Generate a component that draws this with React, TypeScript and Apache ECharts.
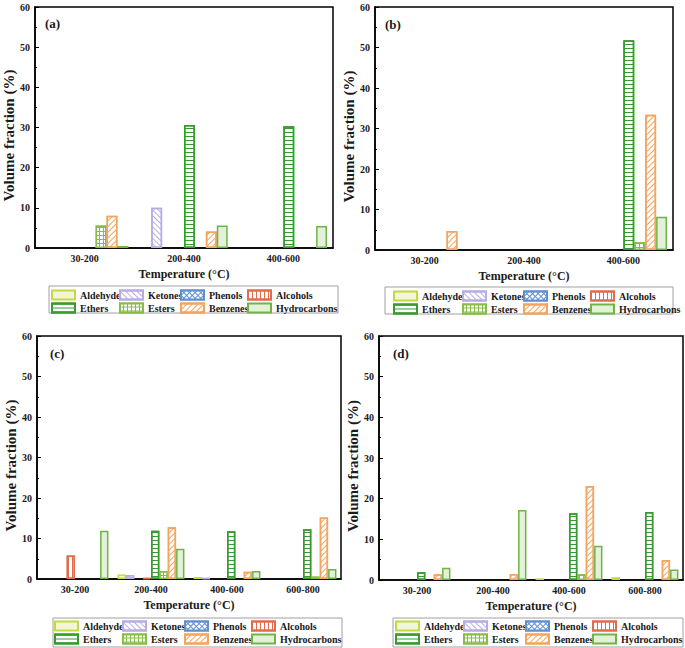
import React, { useEffect, useRef } from "react";
import * as echarts from "echarts";

// ---------- data ----------
const compounds = ["Aldehyde", "Ketones", "Phenols", "Alcohols", "Ethers", "Esters", "Benzenes", "Hydrocarbons"];
const categoriesAB = ["30-200", "200-400", "400-600"];
const categoriesCD = ["30-200", "200-400", "400-600", "600-800"];
const yMin = 0;
const yMax = 60;
const yInterval = 10;

// values in compound order: Aldehyde, Ketones, Phenols, Alcohols, Ethers, Esters, Benzenes, Hydrocarbons
const a30_200 = [0, 0, 0, 0, 0, 5.6, 8.0, 0.5];
const a200_400 = [0, 10.0, 0, 0, 30.6, 0, 4.1, 5.6];
const a400_600 = [0, 0, 0, 0, 30.3, 0, 0, 5.5];

const b30_200 = [0, 0, 0, 0, 0, 0, 4.7, 0];
const b200_400 = [0, 0, 0, 0, 0, 0, 0, 0];
const b400_600 = [0, 0, 0, 0, 51.8, 1.9, 33.4, 8.2];

const c30_200 = [0, 0, 0, 5.8, 0, 0, 0, 11.9];
const c200_400 = [1.1, 1.0, 0, 0.3, 11.9, 1.9, 12.8, 7.5];
const c400_600 = [0.5, 0.2, 0, 0, 11.8, 0, 1.8, 2.0];
const c600_800 = [0, 0, 0, 0, 12.3, 0.6, 15.2, 2.5];

const d30_200 = [0, 0, 0, 0, 1.9, 0, 1.4, 3.0];
const d200_400 = [0, 0, 0, 0, 0, 0, 1.5, 17.2];
const d400_600 = [0.4, 0, 0, 0, 16.4, 1.4, 23.1, 8.4];
const d600_800 = [0.7, 0, 0, 0, 16.7, 0, 4.9, 2.6];

const panelLabels = ["(a)", "(b)", "(c)", "(d)"];
const legendColumns = [
  ["Aldehyde", "Ethers"],
  ["Ketones", "Esters"],
  ["Phenols", "Benzenes"],
  ["Alcohols", "Hydrocarbons"],
];

// ---------- layout / style ----------
const FONT = "'Liberation Serif', 'Times New Roman', serif";
const TXT = "#1a1a1a";

const grids = [
  { left: 35, top: 7, width: 298, height: 241 },
  { left: 375, top: 7, width: 298, height: 243 },
  { left: 37, top: 336, width: 304, height: 243 },
  { left: 379, top: 336, width: 304, height: 244 },
];
const legendIconLefts = [
  [51, 119, 180, 247],
  [393, 462, 523, 590],
  [54, 122, 184, 251],
  [395, 463, 525, 592],
];
const legendRowTop = [289, 290, 620, 620];
const legendBoxes = [
  { x: 49, y: 286, w: 289, h: 27 },
  { x: 385, y: 287, w: 288, h: 27 },
  { x: 53, y: 618, w: 289, h: 29 },
  { x: 393, y: 618, w: 290, h: 29 },
];
const labelPos = [
  { x: 45, y: 23 },
  { x: 385, y: 24 },
  { x: 50, y: 353 },
  { x: 393, y: 353 },
];

const lineDecal = (color: string, rotation: number) => ({
  symbol: "rect",
  symbolSize: 1,
  color,
  dashArrayX: [1, 0],
  dashArrayY: [1, 3],
  rotation,
});

const seriesStyles: any[] = [
  { color: "#f1f6d6", borderColor: "#c3d93c", borderWidth: 1.5 },
  { color: "#ffffff", borderColor: "#b7ace4", borderWidth: 1.5, decal: lineDecal("#b7ace4", Math.PI / 4) },
  {
    color: "#5f8fcf",
    borderColor: "#5f8fcf",
    borderWidth: 1.5,
    decal: { symbol: "rect", symbolSize: 1, color: "#ffffff", dashArrayX: [3, 1], dashArrayY: [3, 1], rotation: Math.PI / 4 },
  },
  {
    color: "#ffffff",
    borderColor: "#df6c4b",
    borderWidth: 1.5,
    decal: { symbol: "rect", symbolSize: 1, color: "#df6c4b", dashArrayX: [1, 3], dashArrayY: [1, 0], rotation: 0 },
  },
  { color: "#ffffff", borderColor: "#389a30", borderWidth: 1.5, decal: lineDecal("#389a30", 0) },
  {
    color: "#86bd45",
    borderColor: "#86bd45",
    borderWidth: 1.5,
    decal: { symbol: "rect", symbolSize: 1, color: "#ffffff", dashArrayX: [3, 1], dashArrayY: [3, 1], rotation: 0 },
  },
  { color: "#ffffff", borderColor: "#f4a45c", borderWidth: 1.5, decal: lineDecal("#f4a45c", -Math.PI / 4) },
  { color: "#e4f1da", borderColor: "#71b446", borderWidth: 1.5 },
];

const panels = [
  { cats: categoriesAB, rows: [a30_200, a200_400, a400_600] },
  { cats: categoriesAB, rows: [b30_200, b200_400, b400_600] },
  { cats: categoriesCD, rows: [c30_200, c200_400, c400_600, c600_800] },
  { cats: categoriesCD, rows: [d30_200, d200_400, d400_600, d600_800] },
];

function buildOption() {
  const xAxis: any[] = [];
  const yAxis: any[] = [];
  const series: any[] = [];
  const legend: any[] = [];
  const graphic: any[] = [];

  panels.forEach((p, i) => {
    xAxis.push({
      type: "category",
      gridIndex: i,
      data: p.cats,
      boundaryGap: true,
      axisLine: { show: true, lineStyle: { color: "#000", width: 1.5 } },
      axisTick: { show: false },
      axisLabel: { margin: 5, fontFamily: FONT, fontWeight: "bold", fontSize: 10, color: TXT },
      splitLine: { show: false },
      name: "Temperature (°C)",
      nameLocation: "middle",
      nameGap: 20,
      nameTextStyle: { fontFamily: FONT, fontWeight: "bold", fontSize: 12, color: TXT },
    });
    yAxis.push({
      type: "value",
      gridIndex: i,
      min: yMin,
      max: yMax,
      interval: yInterval,
      axisLine: { show: true, lineStyle: { color: "#000", width: 1.5 } },
      axisTick: { show: true, inside: true, length: 4, lineStyle: { color: "#000", width: 1 } },
      minorTick: { show: true, splitNumber: 2, length: 2, lineStyle: { color: "#000", width: 1 } },
      axisLabel: { margin: 5, fontFamily: FONT, fontWeight: "bold", fontSize: 10, color: TXT },
      splitLine: { show: false },
      name: "Volume fraction (%)",
      nameLocation: "middle",
      nameGap: 18,
      nameTextStyle: { fontFamily: FONT, fontWeight: "bold", fontSize: 15, color: TXT, padding: [0, 16, 0, 0] },
    });
    compounds.forEach((c, k) => {
      series.push({
        type: "bar",
        name: c,
        xAxisIndex: i,
        yAxisIndex: i,
        data: p.rows.map((r) => (r[k] === 0 ? "-" : r[k])),
        barGap: "0%",
        barCategoryGap: "12%",
        itemStyle: seriesStyles[k],
        silent: true,
        emphasis: { disabled: true },
      });
    });
    legendColumns.forEach((col, j) => {
      legend.push({
        orient: "vertical",
        left: legendIconLefts[i][j],
        top: legendRowTop[i],
        padding: 0,
        itemWidth: 23,
        itemHeight: 9,
        itemGap: 1,
        icon: "rect",
        selectedMode: false,
        data: col,
        textStyle: { fontFamily: FONT, fontWeight: "bold", fontSize: 10, color: TXT, lineHeight: 12 },
      });
    });
    const b = legendBoxes[i];
    graphic.push({
      type: "rect",
      shape: { x: b.x, y: b.y, width: b.w, height: b.h },
      style: { fill: "none", stroke: "#a0a0a0", lineWidth: 1 },
      silent: true,
    });
    graphic.push({
      type: "text",
      x: labelPos[i].x,
      y: labelPos[i].y,
      style: {
        text: panelLabels[i],
        font: `bold 13px ${FONT}`,
        fill: TXT,
        verticalAlign: "middle",
      },
      silent: true,
    });
  });

  return {
    animation: false,
    backgroundColor: "#ffffff",
    grid: grids.map((g) => ({ ...g, show: true, borderColor: "#000", borderWidth: 1.5, backgroundColor: "transparent", containLabel: false })),
    xAxis,
    yAxis,
    series,
    legend,
    graphic,
  };
}

export default function App() {
  const ref = useRef<HTMLDivElement>(null);
  useEffect(() => {
    if (!ref.current) return;
    const chart = echarts.init(ref.current, undefined, { renderer: "svg" });
    chart.setOption(buildOption() as any);
    return () => chart.dispose();
  }, []);
  return <div ref={ref} style={{ position: "fixed", left: 0, top: 0, width: 685, height: 648 }} />;
}
